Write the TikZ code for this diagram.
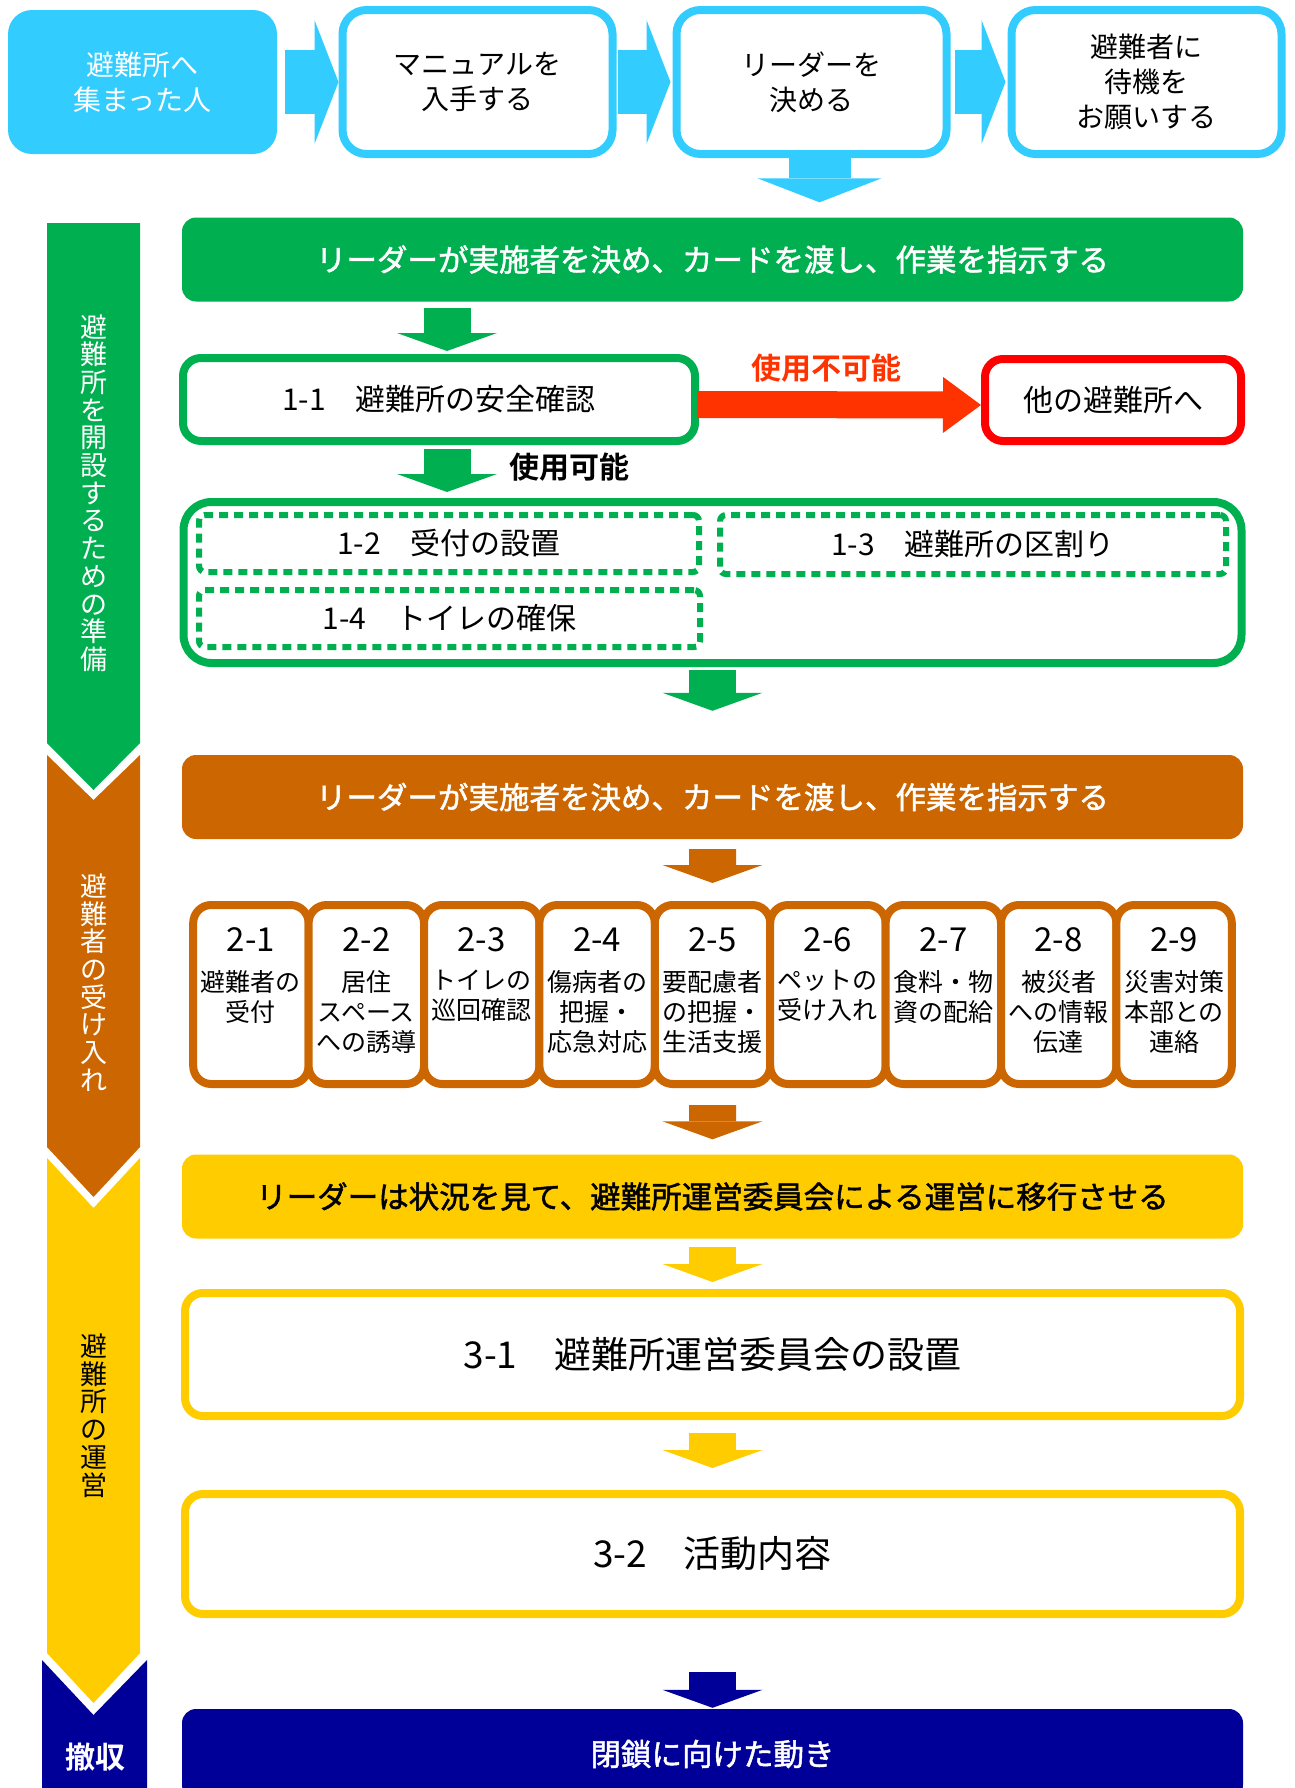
\documentclass[tikz,border=0pt]{standalone}
\usepackage{fontspec}
\setmainfont{Noto Sans CJK JP}[BoldFont={Noto Sans CJK JP Bold}]
\newfontfamily\medfont{Noto Sans CJK JP}[AutoFakeBold=1.6]
\usetikzlibrary{arrows.meta}

\definecolor{skyblue}{RGB}{51,204,255}
\definecolor{grn}{RGB}{0,176,80}
\definecolor{brn}{RGB}{204,102,0}
\definecolor{ylw}{RGB}{255,204,0}
\definecolor{nvy}{RGB}{0,0,153}
\definecolor{rd}{RGB}{255,0,0}
\definecolor{rdarrow}{RGB}{255,51,0}

\tikzset{
  topbox/.style={draw=skyblue, line width=8pt, fill=white, rounded corners=24pt,
    minimum width=270pt, minimum height=144pt, inner sep=0pt, align=center,
    font=\fontsize{28}{35}\selectfont},
  header/.style={fill=#1, rounded corners=14pt, minimum width=1061pt,
    minimum height=84pt, inner sep=0pt, font=\medfont\bfseries\fontsize{30.5}{36}\selectfont},
  stepbox/.style={draw=#1, line width=8pt, fill=white, rounded corners=18pt,
    inner sep=0pt, font=\fontsize{30}{36}\selectfont},
  dotbox/.style={draw=grn, line width=6pt, dash pattern=on 9pt off 6pt,
    rounded corners=6pt, inner sep=0pt, minimum height=57pt,
    font=\fontsize{30}{36}\selectfont},
  taskbox/.style={draw=brn, line width=8pt, fill=white, rounded corners=18pt,
    minimum width=115.4pt, minimum height=179pt, inner sep=0pt},
  sidelabel/.style={align=center, inner sep=0pt, font=\fontsize{27}{27.7}\selectfont},
  flow/.style={line width=47pt, draw=#1,
    -{Triangle[width=100pt,length=18pt,line width=0pt]}},
  toparrow/.style={line width=64pt, draw=skyblue,
    -{Triangle[width=124pt,length=24pt,line width=0pt]}},
}

\begin{document}
\begin{tikzpicture}[x=1pt,y=-1pt]
\useasboundingbox (0,0) rectangle (1295,1788);
\clip (0,0) rectangle (1295,1788);

% stage bars on the left
\fill[grn] (47,223) -- (140,223) -- (140,743) -- (93.5,790) -- (47,743) -- cycle;
\fill[brn] (47,755) -- (93.5,800) -- (140,755) -- (140,1147) -- (93.5,1197) -- (47,1147) -- cycle;
\fill[ylw] (47,1158) -- (93.5,1208) -- (140,1158) -- (140,1653) -- (93.5,1703) -- (47,1653) -- cycle;
\fill[nvy] (42,1660) -- (93.5,1715) -- (147,1660) -- (147,1788) -- (42,1788) -- cycle;

\node[sidelabel, text=white] (s1) at (94,493) {避\\難\\所\\を\\開\\設\\す\\る\\た\\め\\の\\準\\備};
\node[sidelabel, text=white] (s2) at (94,982.5) {避\\難\\者\\の\\受\\け\\入\\れ};
\node[sidelabel] (s3) at (94,1415.5) {避\\難\\所\\の\\運\\営};
\node[text=white, inner sep=0pt, font=\bfseries\fontsize{30}{36}\selectfont] (s4) at (95,1757) {撤収};

% top row
\node[topbox, fill=skyblue, draw=none, text=white, outer sep=0pt, minimum width=269pt] (b1) at (142.5,82) {避難所へ\\集まった人};
\node[topbox] (b2) at (477.5,82) {マニュアルを\\入手する};
\node[topbox] (b3) at (811.5,82) {リーダーを\\決める};
\node[topbox] (b4) at (1146.5,82) {避難者に\\待機を\\お願いする};

\draw[toparrow, shorten <=8pt] (b1) -- (b2);
\draw[toparrow, shorten <=1pt, shorten >=2pt] (b2) -- (b3);
\draw[toparrow, shorten <=4pt, shorten >=2pt] (b3) -- (b4);

% stage 1
\node[header=grn, text=white] (hdr1) at (712.5,259.5) {リーダーが実施者を決め、カードを渡し、作業を指示する};
\coordinate (drop) at ([xshift=8pt]b3.south);
\draw[toparrow, line width=62pt, shorten >=15pt] (drop) -- (drop |- hdr1.north);

\node[stepbox=grn, minimum width=512pt, minimum height=83pt] (n11) at (439,399.5) {1-1　避難所の安全確認};
\node[stepbox=rd, minimum width=256pt, minimum height=82pt] (nother) at (1113,400) {他の避難所へ};
\draw[line width=27pt, draw=rdarrow, -{Triangle[width=56pt,length=38pt,line width=0pt]}, shorten <=-2pt]
  ([yshift=-5pt]n11.east) -- ([yshift=-5pt]nother.west);
\node[text=rdarrow, font=\bfseries\fontsize{30}{36}\selectfont] (ng) at (826,368) {使用不可能};

\coordinate (g1) at ([xshift=8pt]n11.north);
\draw[flow=grn, shorten <=6pt, shorten >=3pt] (g1 |- hdr1.south) -- (g1);

\node[draw=grn, line width=8pt, fill=white, rounded corners=28pt, minimum width=1058pt, minimum height=161pt] (grp) at (712.5,582.5) {};
\node[dotbox, minimum width=500pt] (n12) at (449,543.5) {1-2　受付の設置};
\node[dotbox, minimum width=506pt, minimum height=59pt] (n13) at (973,544.5) {1-3　避難所の区割り};
\node[dotbox, minimum width=501pt] (n14) at (449.5,618.5) {1-4　トイレの確保};

\coordinate (g2) at ([xshift=8pt]n11.south);
\draw[flow=grn, shorten <=4pt, shorten >=6pt] (g2) -- (g2 |- grp.north);
\node[font=\bfseries\fontsize{30}{36}\selectfont] (ok) at (569,467) {使用可能};

% stage 2
\node[header=brn, text=white] (hdr2) at (712.5,797) {リーダーが実施者を決め、カードを渡し、作業を指示する};
\draw[flow=grn, shorten <=3pt, shorten >=44pt] (grp) -- (hdr2);

\foreach \k/\num/\txt in {1/2-1/{避難者の\\受付}, 2/2-2/{居住\\スペース\\への誘導},
    3/2-3/{トイレの\\巡回確認}, 4/2-4/{傷病者の\\把握・\\応急対応},
    5/2-5/{要配慮者\\の把握・\\生活支援}, 6/2-6/{ペットの\\受け入れ},
    7/2-7/{食料・物\\資の配給}, 8/2-8/{被災者\\への情報\\伝達},
    9/2-9/{災害対策\\本部との\\連絡}} {
  \node[taskbox] (t2\k) at ({250.9+(\k-1)*115.4},994.5) {};
  \node[inner sep=0pt, font=\fontsize{33}{36}\selectfont] (t2\k n) at ({250.9+(\k-1)*115.4},940) {\num};
  \node[anchor=north, align=center, inner sep=0pt, font=\fontsize{25}{30}\selectfont] (t2\k t) at ({250.9+(\k-1)*115.4},970) {\txt};
}
\draw[flow=brn, shorten <=10pt, shorten >=18pt] (hdr2) -- (t25);

% stage 3
\node[header=ylw] (hdr3) at (712.5,1196.5) {リーダーは状況を見て、避難所運営委員会による運営に移行させる};
\draw[flow=brn, shorten <=17pt, shorten >=15pt] (t25) -- (hdr3);

\node[stepbox=ylw, minimum width=1055pt, minimum height=123pt, font=\fontsize{37}{40}\selectfont] (n31) at (712.5,1354.5) {3-1　避難所運営委員会の設置};
\draw[flow=ylw, shorten <=8pt, shorten >=7pt] (hdr3) -- (n31);

\node[stepbox=ylw, minimum width=1055pt, minimum height=120pt, font=\fontsize{37}{40}\selectfont] (n32) at (712.5,1554) {3-2　活動内容};
\draw[flow=ylw, shorten <=13pt, shorten >=22pt] (n31) -- (n32);

% closing
\node[header=nvy, text=white, minimum height=90pt] (hdr4) at (712.5,1754) {閉鎖に向けた動き};
\draw[flow=nvy, shorten <=54pt, shorten >=1pt] (n32) -- (hdr4);

\end{tikzpicture}
\end{document}
